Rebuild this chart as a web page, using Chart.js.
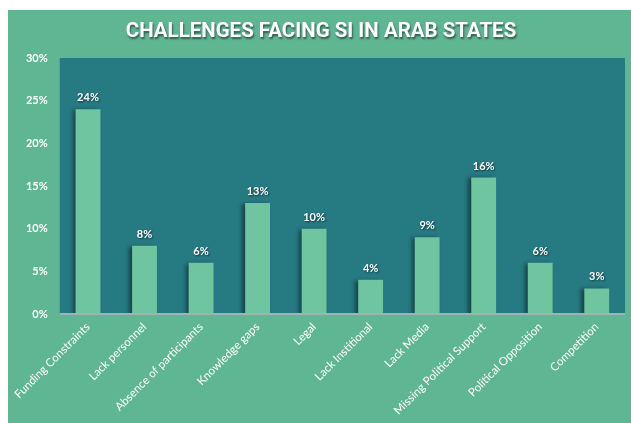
<!DOCTYPE html>
<html>
<head>
<meta charset="utf-8">
<script src="https://cdn.jsdelivr.net/npm/chart.js@4/dist/chart.umd.min.js"></script>
<style>
html,body{margin:0;padding:0;background:#ffffff;width:631px;height:423px;overflow:hidden;}
#wrap{position:absolute;left:8px;top:10px;width:623px;height:413px;background:#5fb693;}
canvas{display:block;}
</style>
</head>
<body>
<div id="wrap"><canvas id="c" width="623" height="413"></canvas></div>
<script>
const chartTitle = "CHALLENGES FACING SI IN ARAB STATES";
const categories = ["Funding Constraints","Lack personnel","Absence of participants","Knowledge gaps","Legal","Lack Institional","Lack Media","Missing Political Support","Political Opposition","Competition"];
const values = [24, 8, 6, 13, 10, 4, 9, 16, 6, 3];
const yTicks = [0, 5, 10, 15, 20, 25, 30];

const COL_PLOT = "#267a82";
const COL_BAR = "#6fc5a0";

const plotBg = {
  id: "plotBg",
  beforeDraw(chart) {
    const {ctx, chartArea: a} = chart;
    ctx.save();
    ctx.fillStyle = COL_PLOT;
    ctx.fillRect(a.left, a.top, a.right - a.left, a.bottom - a.top);
    ctx.restore();
  },
  beforeDatasetsDraw(chart) {
    const ctx = chart.ctx;
    ctx.save();
    ctx.shadowColor = "rgba(0,0,0,0.45)";
    ctx.shadowBlur = 4;
    ctx.shadowOffsetX = -3;
    ctx.shadowOffsetY = 1;
  },
  afterDatasetsDraw(chart) {
    const ctx = chart.ctx;
    ctx.restore();
    const a = chart.chartArea;
    ctx.save();
    ctx.strokeStyle = "#9fb3b3";
    ctx.lineWidth = 2;
    ctx.beginPath();
    ctx.moveTo(a.left, a.bottom);
    ctx.lineTo(a.right, a.bottom);
    ctx.stroke();
    ctx.restore();
    const meta = chart.getDatasetMeta(0);
    ctx.save();
    ctx.font = "bold 11px Lato, 'Open Sans', sans-serif";
    ctx.fillStyle = "#ffffff";
    ctx.textAlign = "center";
    ctx.textBaseline = "bottom";
    ctx.shadowColor = "rgba(0,0,0,0.55)";
    ctx.shadowBlur = 2;
    ctx.shadowOffsetX = 1;
    ctx.shadowOffsetY = 1;
    meta.data.forEach((el, i) => {
      ctx.fillText(values[i] + "%", el.x, el.y - 6);
    });
    ctx.restore();
    ctx.save();
    ctx.font = "bold 21px 'Liberation Sans Narrow', 'Roboto', sans-serif";
    ctx.fillStyle = "#ffffff";
    ctx.textAlign = "center";
    ctx.textBaseline = "middle";
    ctx.shadowColor = "rgba(0,0,0,0.5)";
    ctx.shadowBlur = 2;
    ctx.shadowOffsetX = 1;
    ctx.shadowOffsetY = 2;
    ctx.translate(313, 22);
    ctx.scale(0.975, 1);
    ctx.fillText(chartTitle, 0, 0);
    ctx.restore();
  }
};

new Chart(document.getElementById("c"), {
  type: "bar",
  data: {
    labels: categories,
    datasets: [{
      data: values,
      backgroundColor: COL_BAR,
      borderWidth: 0,
      barPercentage: 0.55,
      categoryPercentage: 0.8
    }]
  },
  options: {
    responsive: false,
    animation: false,
    events: [],
    layout: { padding: { top: 48, right: 6, left: 0, bottom: 0 } },
    plugins: { legend: { display: false }, tooltip: { enabled: false } },
    scales: {
      x: {
        grid: { display: false, drawTicks: false },
        border: { display: false },
        ticks: {
          color: "#ffffff",
          font: { family: "Lato, 'Open Sans', sans-serif", size: 11.5 },
          maxRotation: 45, minRotation: 45, padding: 6, autoSkip: false
        },
        afterFit(s) { s.height = 109; }
      },
      y: {
        min: 0, max: 30,
        afterBuildTicks(s) { s.ticks = yTicks.map(v => ({ value: v })); },
        grid: { display: false, drawTicks: false },
        border: { display: false },
        ticks: {
          color: "#ffffff",
          font: { family: "Lato, 'Open Sans', sans-serif", size: 11, weight: "bold" },
          padding: 12,
          callback: v => v + "%"
        },
        afterFit(s) { s.width = 51; }
      }
    }
  },
  plugins: [plotBg]
});
</script>
</body>
</html>
